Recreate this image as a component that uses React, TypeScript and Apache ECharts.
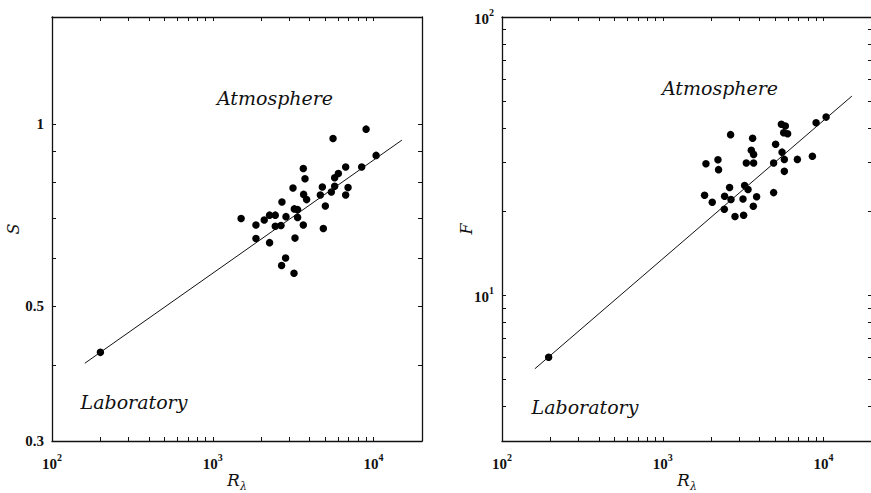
import React, { useEffect, useRef } from "react";
import * as echarts from "echarts";

// ---- data ----
const atmR_S = [1500, 1855, 1855, 2089, 2255, 2446, 2255, 2692, 2446, 2655, 2852, 3153, 3213, 3368, 3368, 3245, 2836, 2678, 3199, 3655, 3745, 3671, 3832, 3655, 4800, 4664, 5010, 4868, 5595, 5461, 5726, 5726, 6037, 6704, 6937, 6704, 8431, 8981, 10366];
const atmS = [0.698, 0.681, 0.647, 0.694, 0.707, 0.707, 0.637, 0.743, 0.678, 0.68, 0.703, 0.784, 0.724, 0.722, 0.701, 0.648, 0.601, 0.584, 0.567, 0.844, 0.812, 0.765, 0.75, 0.681, 0.787, 0.763, 0.732, 0.672, 0.946, 0.772, 0.789, 0.815, 0.828, 0.849, 0.785, 0.763, 0.849, 0.98, 0.887];
const labR_S = [200];
const labS = [0.42];
const fitR_S = [160, 15000];
const fitS = [0.403, 0.94];

const atmR_F = [1855, 2203, 2222, 2640, 3618, 3551, 3671, 3306, 3671, 5030, 5461, 5782, 5644, 5976, 5515, 4890, 5700, 5700, 6869, 8517, 8981, 10366, 1819, 2030, 2423, 2602, 2655, 2412, 2812, 3181, 3227, 3388, 3153, 3832, 3655, 4890];
const atmF = [29.7, 30.7, 28.3, 37.8, 36.7, 33.2, 32.1, 29.9, 29.9, 34.9, 41.2, 40.6, 38.4, 38.1, 32.7, 29.9, 30.8, 27.9, 30.8, 31.6, 41.7, 43.7, 22.9, 21.6, 22.7, 24.4, 22.1, 20.4, 19.2, 19.4, 24.8, 24.0, 22.2, 22.6, 20.9, 23.4];
const labR_F = [195];
const labF = [6.0];
const fitR_F = [160, 15000];
const fitF = [5.45, 52];

const xTicks = [100, 200, 300, 400, 500, 600, 700, 800, 900, 1000, 2000, 3000, 4000, 5000, 6000, 7000, 8000, 9000, 10000, 20000];
const xLabels = [100, 1000, 10000];
const sTicks = [0.3, 0.4, 0.5, 0.6, 0.7, 0.8, 0.9, 1];
const sLabels = [0.3, 0.5, 1];
const fTicks = [3, 4, 5, 6, 7, 8, 9, 10, 20, 30, 40, 50, 60, 70, 80, 90, 100];
const fLabels = [10, 100];

const zip = (a: number[], b: number[]) => a.map((v, i) => [v, b[i]]);

const INK = "#111";
const SERIF = "Liberation Serif";
const ITALIC = "DejaVu Serif";

const powRich = {
  b: { fontFamily: SERIF, fontWeight: "bold", fontSize: 15, color: INK, lineHeight: 19, verticalAlign: "bottom" },
  s: { fontFamily: SERIF, fontWeight: "bold", fontSize: 10, color: INK, lineHeight: 11, verticalAlign: "top" },
};
const powFmt = (v: number) => `{b|10}{s|${Math.round(Math.log10(v))}}`;

function xAxisDef(gridIndex: number, top: boolean) {
  return {
    type: "log",
    logBase: 10,
    gridIndex,
    position: top ? "top" : "bottom",
    min: 100,
    max: 20000,
    axisLine: { show: true, onZero: false, lineStyle: { color: INK, width: 1.3 } },
    axisTick: { show: true, inside: true, length: 4, customValues: xTicks, lineStyle: { color: INK, width: 1 } },
    axisLabel: top
      ? { show: false }
      : { show: true, customValues: xLabels, margin: 11, formatter: powFmt, rich: powRich },
    splitLine: { show: false },
    minorTick: { show: false },
    name: top ? "" : "{r|R}{l|λ}",
    nameLocation: "middle",
    nameGap: 30,
    nameMoveOverlap: false,
    nameTextStyle: {
      rich: {
        r: { fontFamily: ITALIC, fontStyle: "italic", fontSize: 17, color: INK, lineHeight: 18, verticalAlign: "top" },
        l: { fontFamily: ITALIC, fontStyle: "italic", fontSize: 11, color: INK, lineHeight: 21, verticalAlign: "bottom" },
      },
    },
  };
}

function yAxisDef(gridIndex: number, right: boolean, min: number, max: number, ticks: number[], labels: number[], pow: boolean, name: string, nameGap: number) {
  return {
    type: "log",
    logBase: 10,
    gridIndex,
    position: right ? "right" : "left",
    min,
    max,
    axisLine: { show: true, onZero: false, lineStyle: { color: INK, width: 1.3 } },
    axisTick: { show: true, inside: true, length: 4, customValues: ticks, lineStyle: { color: INK, width: 1 } },
    axisLabel: right
      ? { show: false }
      : pow
      ? { show: true, customValues: labels, margin: 8, formatter: powFmt, rich: powRich }
      : {
          show: true,
          customValues: labels,
          margin: 8,
          formatter: (v: number) => String(v),
          fontFamily: SERIF,
          fontWeight: "bold",
          fontSize: 15,
          color: INK,
        },
    splitLine: { show: false },
    minorTick: { show: false },
    name: right ? "" : name,
    nameLocation: "middle",
    nameGap,
    nameMoveOverlap: false,
    nameRotate: 90,
    nameTextStyle: { fontFamily: ITALIC, fontStyle: "italic", fontSize: 16, color: INK },
  };
}

const annot = (x: number, y: number, text: string) => ({
  type: "text",
  x,
  y,
  style: {
    text,
    fill: INK,
    font: `italic 19px '${ITALIC}'`,
    textAlign: "center",
    textVerticalAlign: "middle",
  },
});

export default function App() {
  const ref = useRef<HTMLDivElement>(null);
  useEffect(() => {
    if (!ref.current) return;
    const chart = echarts.init(ref.current, null, { renderer: "svg" });
    const dot = { color: "#000", opacity: 1 };
    chart.setOption({
      animation: false,
      backgroundColor: "#fff",
      grid: [
        { left: 52, top: 17, width: 370, height: 424, containLabel: false, outerBoundsMode: "none" },
        { left: 502, top: 17, width: 370, height: 424, containLabel: false, outerBoundsMode: "none" },
      ],
      xAxis: [xAxisDef(0, false), xAxisDef(0, true), xAxisDef(1, false), xAxisDef(1, true)],
      yAxis: [
        yAxisDef(0, false, 0.3, 1.5, sTicks, sLabels, false, "S", 31),
        yAxisDef(0, true, 0.3, 1.5, sTicks, sLabels, false, "", 0),
        yAxisDef(1, false, 3, 100, fTicks, fLabels, true, "F", 28),
        yAxisDef(1, true, 3, 100, fTicks, fLabels, true, "", 0),
      ],
      series: [
        {
          type: "line", xAxisIndex: 0, yAxisIndex: 0, data: zip(fitR_S, fitS),
          symbol: "none", lineStyle: { color: INK, width: 1 }, silent: true,
        },
        { type: "scatter", xAxisIndex: 0, yAxisIndex: 0, data: zip(atmR_S, atmS), symbolSize: 7.5, itemStyle: dot },
        { type: "scatter", xAxisIndex: 0, yAxisIndex: 0, data: zip(labR_S, labS), symbolSize: 7.5, itemStyle: dot },
        {
          type: "line", xAxisIndex: 2, yAxisIndex: 2, data: zip(fitR_F, fitF),
          symbol: "none", lineStyle: { color: INK, width: 1 }, silent: true,
        },
        { type: "scatter", xAxisIndex: 2, yAxisIndex: 2, data: zip(atmR_F, atmF), symbolSize: 7.5, itemStyle: dot },
        { type: "scatter", xAxisIndex: 2, yAxisIndex: 2, data: zip(labR_F, labF), symbolSize: 7.5, itemStyle: dot },
      ],
      graphic: [
        annot(275, 98, "Atmosphere"),
        annot(134, 402, "Laboratory"),
        annot(720, 88, "Atmosphere"),
        annot(585, 407, "Laboratory"),
      ],
    });
    return () => chart.dispose();
  }, []);
  return (
    <div
      ref={ref}
      style={{ position: "fixed", left: 0, top: 0, width: 871, height: 493, background: "#fff" }}
    />
  );
}
